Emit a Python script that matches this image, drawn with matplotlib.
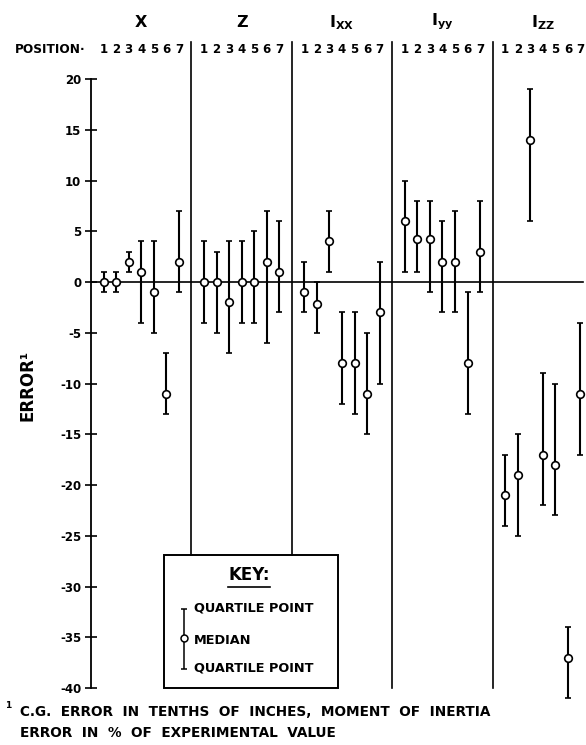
import matplotlib
matplotlib.use('Agg')
import matplotlib.pyplot as plt
import numpy as np

plt.rcParams['font.family'] = ['DejaVu Sans']
plt.rcParams['font.weight'] = 'bold'

# 各组数据：中位数、下四分位、上四分位 (位置 1-7)
groups = ['X', 'Z', r'$\mathrm{I}_{\mathrm{XX}}$', r'$\mathrm{I}_{\mathrm{yy}}$', r'$\mathrm{I}_{\mathrm{ZZ}}$']
positions = [1, 2, 3, 4, 5, 6, 7]

median_x = [0, 0, 2, 1, -1, -11, 2]
lower_x = [-1, -1, 1, -4, -5, -13, -1]
upper_x = [1, 1, 3, 4, 4, -7, 7]

median_z = [0, 0, -2, 0, 0, 2, 1]
lower_z = [-4, -5, -7, -4, -4, -6, -3]
upper_z = [4, 3, 4, 4, 5, 7, 6]

median_ixx = [-1, -2.2, 4, -8, -8, -11, -3]
lower_ixx = [-3, -5, 1, -12, -13, -15, -10]
upper_ixx = [2, 0, 7, -3, -3, -5, 2]

median_iyy = [6, 4.2, 4.2, 2, 2, -8, 3]
lower_iyy = [1, 1, -1, -3, -3, -13, -1]
upper_iyy = [10, 8, 8, 6, 7, -1, 8]

median_izz = [-21, -19, 14, -17, -18, -37, -11]
lower_izz = [-24, -25, 6, -22, -23, -41, -17]
upper_izz = [-17, -15, 19, -9, -10, -34, -4]

medians = [median_x, median_z, median_ixx, median_iyy, median_izz]
lowers = [lower_x, lower_z, lower_ixx, lower_iyy, lower_izz]
uppers = [upper_x, upper_z, upper_ixx, upper_iyy, upper_izz]

y_ticks = list(range(-40, 21, 5))

W, H = 586, 745
fig = plt.figure(figsize=(W / 100, H / 100), dpi=100)
# 坐标轴：x=0 在像素 91，y=20 在像素 79，y=-40 在像素 688
ax = fig.add_axes([91 / W, 1 - 688 / H, 1 - 91 / W, (688 - 79) / H])
ax.set_xlim(0, (W - 91) / 12.55)
ax.set_ylim(-40, 20)

for s in ['top', 'right', 'bottom']:
    ax.spines[s].set_visible(False)
ax.spines['left'].set_linewidth(1.3)
ax.spines['left'].set_bounds(-40, 20)
ax.set_xticks([])
ax.set_yticks(y_ticks)
ax.set_yticklabels([str(t) for t in y_ticks])
ax.tick_params(axis='y', direction='inout', length=8, width=1.2,
               labelsize=8.5, pad=3)

# 零线
ax.plot([0, 39.2], [0, 0], color='black', lw=1.2, zorder=1)

# 分隔线
top_y = 23.6
box_top = -26.9
for g in range(1, 5):
    xd = 8 * g
    bottom = box_top if g <= 2 else -40
    ax.plot([xd, xd], [top_y, bottom], color='black', lw=1.2, clip_on=False, zorder=1)

# 误差棒
for g in range(5):
    xs = np.array(positions) + 8 * g
    med = np.array(medians[g], dtype=float)
    lo = np.array(lowers[g], dtype=float)
    hi = np.array(uppers[g], dtype=float)
    ax.errorbar(xs, med, yerr=[med - lo, hi - med], fmt='o', ms=5.5,
                mfc='white', mec='black', mew=1.2, ecolor='black',
                elinewidth=1.5, capsize=2.5, capthick=1.3, clip_on=False, zorder=3)
    # 组标题和位置编号
    ax.text(4 + 8 * g, 25.6, groups[g], ha='center', va='center',
            fontsize=11.5, fontweight='bold')
    for p in positions:
        ax.text(p + 8 * g, 22.9, str(p), ha='center', va='center', fontsize=8.5)

ax.text(-0.4, 22.9, 'POSITION·', ha='right', va='center', fontsize=8.7)

# 图例框
box = plt.Rectangle((5.82, -40), 19.7 - 5.82, box_top + 40, fill=False,
                    edgecolor='black', lw=1.4, clip_on=False, zorder=2)
ax.add_patch(box)
ax.text(12.6, -28.9, 'KEY:', ha='center', va='center', fontsize=12)
ax.plot([10.95, 14.3], [-30.0, -30.0], color='black', lw=1.2)
ax.errorbar([7.4], [-35.1], yerr=[[3.0], [2.9]], fmt='o', ms=5,
            mfc='white', mec='black', mew=1.1, ecolor='black',
            elinewidth=1.1, capsize=2, capthick=1.0, zorder=3)
ax.text(8.2, -32.1, 'QUARTILE POINT', ha='left', va='center', fontsize=9.3)
ax.text(8.2, -35.3, 'MEDIAN', ha='left', va='center', fontsize=9.3)
ax.text(8.2, -38.0, 'QUARTILE POINT', ha='left', va='center', fontsize=9.3)

# 纵轴标签
fig.text(27 / W, 1 - 385 / H, 'ERROR¹', rotation=90, ha='center', va='center',
         fontsize=12)

# 脚注
fig.text(5 / W, 1 - 706 / H, '1', ha='left', va='center', fontsize=6.5)
fig.text(20 / W, 1 - 712 / H, 'C.G.  ERROR  IN  TENTHS  OF  INCHES,  MOMENT  OF  INERTIA',
         ha='left', va='center', fontsize=9.8)
fig.text(20 / W, 1 - 733 / H, 'ERROR  IN  %  OF  EXPERIMENTAL  VALUE',
         ha='left', va='center', fontsize=9.8)

fig.savefig('out.png', dpi=100)
